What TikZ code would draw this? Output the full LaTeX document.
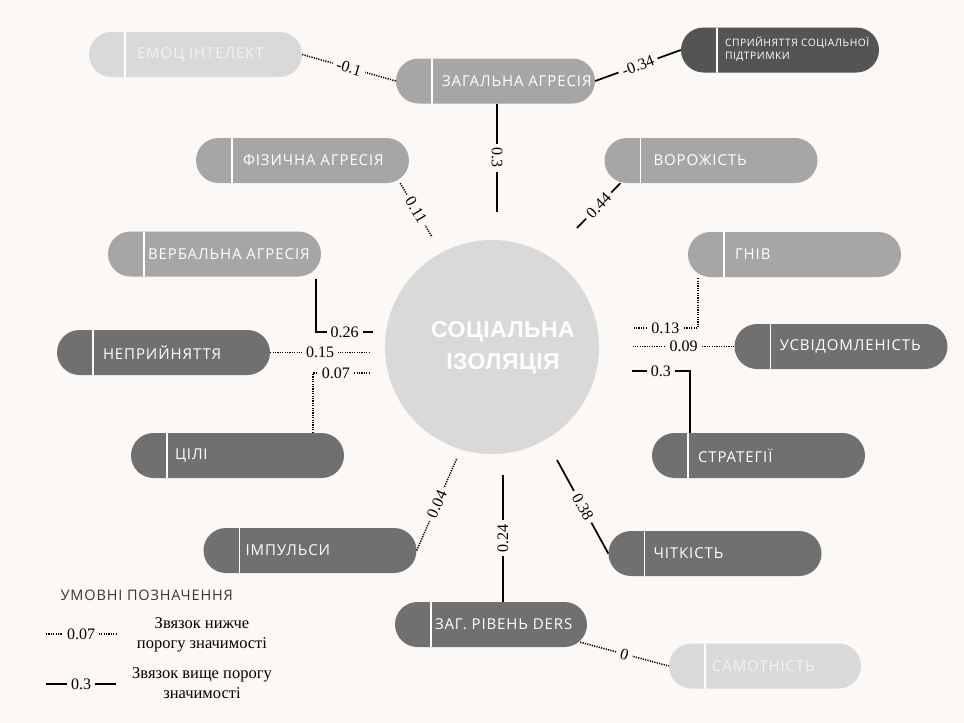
\documentclass[tikz,border=0pt]{standalone}
\usepackage{fontspec}
\newfontfamily\boxfont{Open Sans}[LetterSpace=6]
\newfontfamily\sprfont{Open Sans}[LetterSpace=5]
\newfontfamily\centerfont{Liberation Sans}[LetterSpace=2]
\newfontfamily\legserif{Liberation Serif}
\usetikzlibrary{calc}
\definecolor{bg}{HTML}{FBF8F6}
\definecolor{lightg}{HTML}{D9D9D9}
\definecolor{lighttxt}{HTML}{F3F3F3}
\definecolor{midg}{HTML}{A6A6A6}
\definecolor{darkg}{HTML}{707070}
\definecolor{darkerg}{HTML}{545454}
\definecolor{legdark}{HTML}{363636}
\newcommand{\pilltxt}[3]{\makebox[#1][l]{\hspace*{#2}#3}}
\begin{document}
\begin{tikzpicture}[x=1pt,y=-1pt,
  pill/.style={rectangle, rounded corners=22.5pt, minimum height=45pt, inner sep=0pt,
    text=white, font=\boxfont\fontsize{15}{17}\selectfont,
    path picture={\draw[white, line width=1.6pt]
      ([xshift=36pt]path picture bounding box.south west) --
      ([xshift=36pt]path picture bounding box.north west);}},
  weak/.style={line width=1.5pt, dash pattern=on 1.2pt off 1.2pt, draw=black},
  strong/.style={line width=1.7pt, draw=black},
  val/.style={fill=bg, inner xsep=4pt, inner ysep=2pt, font=\legserif\fontsize{16}{16}\selectfont, text=black},
  legtext/.style={font=\legserif\fontsize{16.5}{20}\selectfont, align=center, text=black}]
\fill[bg] (0,0) rectangle (964,723);
\useasboundingbox (0,0) rectangle (964,723);

% central circle
\node[circle, fill=lightg, minimum size=214pt, inner sep=0pt, text=white,
  font=\centerfont\bfseries\fontsize{23}{34}\selectfont] (circ) at (492,347)
  {\hspace*{22pt}\begin{tabular}{@{}c@{}}СОЦІАЛЬНА\\[-2pt]ІЗОЛЯЦІЯ\end{tabular}};

% boxes
\node[pill, fill=lightg, text=lighttxt] (emo) at (195.5,54.5) {\pilltxt{213pt}{48pt}{ЕМОЦ ІНТЕЛЕКТ}};
\node[pill, fill=midg] (zag) at (495.5,81) {\pilltxt{199pt}{46pt}{ЗАГАЛЬНА АГРЕСІЯ}};
\node[pill, fill=darkerg, font=\sprfont\fontsize{10.3}{13}\selectfont] (spr) at (780,50)
  {\pilltxt{198pt}{44pt}{\begin{tabular}{@{}l@{}}СПРИЙНЯТТЯ СОЦІАЛЬНОЇ\\ПІДТРИМКИ\end{tabular}}};
\node[pill, fill=midg] (fiz) at (302.5,160.5) {\pilltxt{213pt}{47pt}{ФІЗИЧНА АГРЕСІЯ}};
\node[pill, fill=midg] (vor) at (711,160.5) {\pilltxt{213pt}{49pt}{ВОРОЖІСТЬ}};
\node[pill, fill=midg] (verb) at (214.5,254) {\pilltxt{213pt}{40pt}{ВЕРБАЛЬНА АГРЕСІЯ}};
\node[pill, fill=midg] (gniv) at (794.5,254.5) {\pilltxt{213pt}{47pt}{ГНІВ}};
\node[pill, fill=darkg] (nep) at (163.5,352.5) {\pilltxt{213pt}{46pt}{НЕПРИЙНЯТТЯ}};
\node[pill, fill=darkg] (usv) at (841,346.5) {\pilltxt{213pt}{45pt}{УСВІДОМЛЕНІСТЬ}};
\node[pill, fill=darkg] (cili) at (237.5,455.5) {\pilltxt{213pt}{44pt}{ЦІЛІ}};
\node[pill, fill=darkg] (str) at (758.5,455.5) {\pilltxt{213pt}{46pt}{СТРАТЕГІЇ}};
\node[pill, fill=darkg] (imp) at (310,550.5) {\pilltxt{213pt}{42pt}{ІМПУЛЬСИ}};
\node[pill, fill=darkg] (chit) at (715,553.5) {\pilltxt{213pt}{45pt}{ЧІТКІСТЬ}};
\node[pill, fill=darkg] (ders) at (491,624.5) {\pilltxt{192pt}{40pt}{ЗАГ. РІВЕНЬ DERS}};
\node[pill, fill=lightg, text=lighttxt] (sam) at (765,666) {\pilltxt{192pt}{43pt}{САМОТНІСТЬ}};

% free ends near the circle
\coordinate (e-zag) at (497,212);
\coordinate (e-fiz) at (432,237);
\coordinate (e-vor) at (577,228);
\coordinate (e-verb) at (373,332);
\coordinate (e-nep) at (370,352.5);
\coordinate (e-cili) at (370,373);
\coordinate (e-gniv) at (633,328);
\coordinate (e-usv) at (633,346.5);
\coordinate (e-str) at (632,371);
\coordinate (e-imp) at (457,458);
\coordinate (e-ders) at (503,475);
\coordinate (e-chit) at (557,460);

% connectors
\draw[weak] (emo.east) -- (zag.west) node[midway, val, rotate=-16.6] {-0.1};
\draw[strong] (zag.east) -- (spr.west) node[midway, val, rotate=21.3] {-0.34};
\draw[strong] ($(zag.south)+(1.5,0)$) -- (e-zag) node[midway, val, rotate=-90] {0.3};
\draw[weak] ($(fiz.south east)+(-9,0)$) -- (e-fiz) node[midway, val, rotate=-59.3] {0.11};
\draw[strong] ($(vor.south west)+(16,0)$) -- (e-vor) node[midway, val, rotate=46.3] {0.44};
\draw[strong] ($(verb.south east)+(-5,2)$) |- (e-verb) node[pos=0.75, val] {0.26};
\draw[weak] (nep.east) -- (e-nep) node[midway, val] {0.15};
\draw[weak] ($(cili.north east)+(-31,0)$) |- (e-cili) node[pos=0.7, val] {0.07};
\draw[weak] ($(gniv.south west)+(10,1)$) |- (e-gniv) node[pos=0.75, val] {0.13};
\draw[weak] (usv.west) -- (e-usv) node[midway, val] {0.09};
\draw[strong] ($(str.north west)+(38,0)$) |- (e-str) node[pos=0.75, val] {0.3};
\draw[weak] (imp.east) -- (e-imp) node[midway, val, rotate=66] {0.04};
\draw[strong] ($(ders.north)+(12,0)$) -- (e-ders) node[midway, val, rotate=90] {0.24};
\draw[strong] (chit.west) -- (e-chit) node[midway, val, rotate=-61] {0.38};
\draw[weak] ($(ders.south east)+(-7,-5)$) -- (sam.west) node[midway, val, rotate=-15.9] {0};

% legend
\node[anchor=west, text=legdark, font=\boxfont\fontsize{14.5}{16}\selectfont] (lgtitle) at (57,595) {УМОВНІ ПОЗНАЧЕННЯ};
\coordinate (l1a) at (46,634);
\coordinate (l1b) at (116,634);
\draw[weak] (l1a) -- (l1b) node[midway, val] {0.07};
\node[legtext] (l1t) at (202,635) {Звязок нижче\\порогу значимості};
\coordinate (l2a) at (46,684);
\coordinate (l2b) at (116,684);
\draw[strong, line width=2.2pt] (l2a) -- (l2b) node[midway, val] {0.3};
\node[legtext] (l2t) at (202,683) {Звязок вище порогу\\значимості};
\end{tikzpicture}
\end{document}
